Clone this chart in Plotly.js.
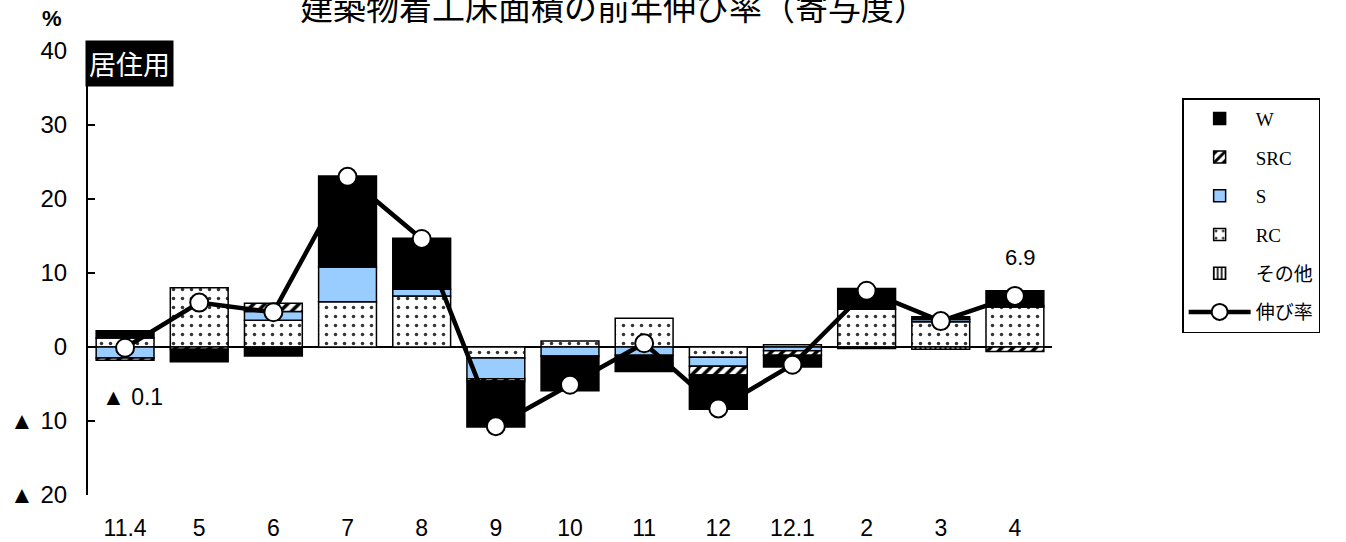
<!DOCTYPE html>
<html><head><meta charset="utf-8">
<script src="https://cdn.plot.ly/plotly-3.0.1.min.js"></script>
<style>html,body{margin:0;padding:0;background:#fff}#chart{width:1346px;height:542px}</style>
</head><body><div id="chart"></div>
<script>
const categories = ['11.4','5','6','7','8','9','10','11','12','12.1','2','3','4'];
const RC    = [1.2, 8.0, 3.6, 6.1, 6.9, -1.5, 0.8, 3.9, -1.4, 0.3, 5.1, 3.4, 5.4];
const S     = [-1.5, null, 1.2, 4.7, 0.9, -2.8, -1.2, -1.1, -1.2, -0.5, null, 0.3, 0.2];
const SRC   = [-0.3, -0.3, 1.1, null, null, -0.3, null, null, -1.2, -0.6, null, null, -0.6];
const W     = [1.0, -1.7, -1.2, 12.3, 6.9, -6.2, -4.7, -2.2, -4.6, -1.6, 2.8, 0.4, 2.0];
const Other = [null, null, null, null, null, null, null, null, null, null, -0.2, -0.3, null];
const rate  = [-0.1, 6.0, 4.7, 23.0, 14.6, -10.7, -5.1, 0.5, -8.3, -2.4, 7.6, 3.5, 6.9];
const yTickVals = [40, 30, 20, 10, 0, -10, -20];
const yTickText = ['40', '30', '20', '10', '0', '▲ 10', '▲ 20'];

const barLine = {color: '#000', width: 1.5};
const bw = 0.78;
const traces = [
  {type: 'bar', name: 'RC', x: categories, y: RC, width: bw, legendrank: 4, legendgroup: 'rc',
   marker: {color: '#fff', line: barLine, pattern: {shape: '.', fgcolor: '#333', bgcolor: '#fff', size: 9, solidity: 0.12}}},
  {type: 'bar', name: 'S', x: categories, y: S, width: bw, legendrank: 3, legendgroup: 's',
   marker: {color: '#99ccff', line: barLine}},
  {type: 'bar', name: 'SRC', x: categories, y: SRC, width: bw, legendrank: 2, legendgroup: 'src',
   marker: {color: '#fff', line: barLine, pattern: {shape: '/', fgcolor: '#000', bgcolor: '#fff', size: 8, solidity: 0.45}}},
  {type: 'bar', name: 'W', x: categories, y: W, width: bw, legendrank: 1, legendgroup: 'w',
   marker: {color: '#000', line: barLine}},
  {type: 'bar', name: 'その他', x: categories, y: Other, width: bw, legendrank: 5, legendgroup: 'o',
   marker: {color: '#fff', line: barLine, pattern: {shape: '|', fgcolor: '#000', bgcolor: '#fff', size: 5, solidity: 0.4}}},
  {type: 'scatter', mode: 'lines+markers', name: '伸び率', x: categories, y: rate, legendrank: 6, legendgroup: 'r',
   line: {color: '#000', width: 4.5},
   marker: {symbol: 'circle', size: 18, color: '#fff', line: {color: '#000', width: 2}}}
];

const layout = {
  width: 1346, height: 542,
  margin: {l: 88, r: 294, t: 51, b: 47},
  paper_bgcolor: '#fff', plot_bgcolor: '#fff',
  barmode: 'relative', bargap: 0.22,
  font: {family: 'Liberation Sans, Arial, sans-serif', color: '#000', size: 18},
  showlegend: true,
  legend: {x: 1.135, y: 0.894, xanchor: 'left', yanchor: 'top', bgcolor: '#fff',
           bordercolor: '#000', borderwidth: 1.5, traceorder: 'grouped', tracegroupgap: 11,
           itemwidth: 62,
           font: {family: 'Liberation Serif, Noto Sans CJK JP, serif', size: 19, color: '#000'}},
  xaxis: {type: 'category', range: [-0.5, 12.5], showline: false, showgrid: false, zeroline: false,
          ticks: '', ticklabelstandoff: 17,
          tickfont: {family: 'Liberation Sans, sans-serif', size: 23}},
  yaxis: {range: [-20, 40], tickvals: yTickVals, ticktext: yTickText, showgrid: false,
          showline: true, linecolor: '#000', linewidth: 2, ticks: 'inside', ticklen: 7, tickwidth: 2,
          tickcolor: '#000', ticklabelstandoff: 14,
          zeroline: true, zerolinecolor: '#000', zerolinewidth: 1.5,
          tickfont: {family: 'Liberation Sans, DejaVu Sans, sans-serif', size: 24}},
  annotations: [
    {text: '建築物着工床面積の前年伸び率（寄与度）', xref: 'paper', yref: 'paper', x: 0.545, y: 1.043,
     xanchor: 'center', yanchor: 'bottom', showarrow: false,
     font: {family: 'Noto Sans CJK JP, sans-serif', size: 33, color: '#000'}},
    {text: '<b>%</b>', xref: 'paper', yref: 'paper', x: -0.037, y: 1.074, xanchor: 'center', yanchor: 'middle',
     showarrow: false, font: {family: 'Liberation Sans, sans-serif', size: 22, color: '#000'}},
    {text: '居住用', xref: 'paper', yref: 'paper', x: -0.003, y: 0.972, xanchor: 'left', yanchor: 'middle',
     showarrow: false, bgcolor: '#000', borderpad: 3,
     font: {family: 'Noto Sans CJK JP, sans-serif', size: 27, color: '#fff'}},
    {text: '▲ 0.1', x: 0.1, y: -6.7, xref: 'x', yref: 'y', showarrow: false, xanchor: 'center', yanchor: 'middle',
     font: {family: 'Liberation Sans, DejaVu Sans, sans-serif', size: 23, color: '#000'}},
    {text: '6.9', x: 12.07, y: 12.1, xref: 'x', yref: 'y', showarrow: false, xanchor: 'center', yanchor: 'middle',
     font: {family: 'Liberation Sans, sans-serif', size: 22, color: '#000'}}
  ]
};
Plotly.newPlot('chart', traces, layout, {displayModeBar: false, staticPlot: true});
</script></body></html>
